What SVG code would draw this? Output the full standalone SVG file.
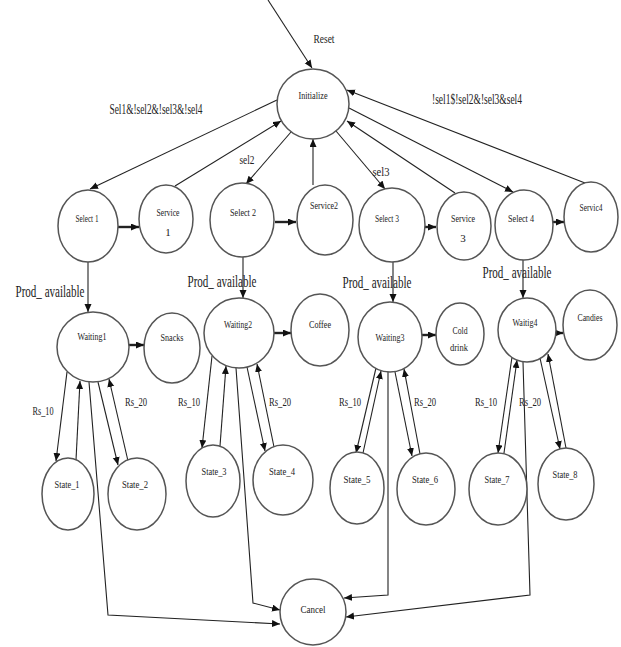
<svg xmlns="http://www.w3.org/2000/svg" width="621" height="647" viewBox="0 0 621 647">
<defs>
<marker id="ah" markerUnits="userSpaceOnUse" markerWidth="9" markerHeight="8" refX="8" refY="3.5" orient="auto">
<path d="M0,0 L8,3.5 L0,7 z" fill="#111"/>
</marker>
<style>
.n{fill:#fff;stroke:#555;stroke-width:1.5}
.c{fill:none;stroke:#222;stroke-width:1.1;marker-end:url(#ah)}
.p{fill:none;stroke:#222;stroke-width:1.1}
.t{stroke:#222;stroke-width:2.4;marker-end:url(#ah)}
text{font-family:"Liberation Serif","Times New Roman",serif;fill:#222;text-anchor:middle}
.s{font-size:11px}
.l{font-size:14px}
.r{font-size:13px}
.pa{font-size:16px}
</style>
</defs>
<rect width="621" height="647" fill="#fff"/>
<g id="connectors">
<line class="c" x1="268" y1="0" x2="312" y2="68"/>
<line class="c" x1="277" y1="100" x2="90" y2="189"/>
<line class="c" x1="175" y1="186" x2="281" y2="121"/>
<line class="c" x1="291" y1="132" x2="246" y2="184"/>
<line class="c" x1="313" y1="185" x2="313" y2="139"/>
<line class="c" x1="336" y1="131" x2="385" y2="189"/>
<line class="c" x1="455" y1="193" x2="347" y2="121"/>
<line class="c" x1="349" y1="108" x2="513" y2="192"/>
<line class="c" x1="585" y1="183" x2="347" y2="90"/>
<line class="t" x1="118" y1="227" x2="139" y2="227"/>
<line class="t" x1="275" y1="222" x2="296" y2="222"/>
<line class="t" x1="425" y1="227" x2="436" y2="227"/>
<line class="t" x1="553" y1="222" x2="564" y2="222"/>
<line class="c" x1="88" y1="262" x2="88" y2="312"/>
<line class="c" x1="243" y1="257" x2="243" y2="298"/>
<line class="c" x1="393" y1="262" x2="393" y2="302"/>
<line class="c" x1="523" y1="260" x2="523" y2="298"/>
<line class="t" x1="129" y1="345" x2="144" y2="345"/>
<line class="t" x1="274" y1="333" x2="291" y2="333"/>
<line class="t" x1="422" y1="335" x2="436" y2="335"/>
<line class="t" x1="556" y1="333" x2="563" y2="333"/>
<line class="c" x1="67" y1="372" x2="56" y2="461"/>
<line class="c" x1="76" y1="460" x2="80" y2="381"/>
<line class="c" x1="98" y1="382" x2="118" y2="465"/>
<line class="c" x1="128" y1="461" x2="109" y2="379"/>
<polyline class="c" points="89,382 108,615 280,624"/>
<line class="c" x1="212" y1="356" x2="202" y2="448"/>
<line class="c" x1="220" y1="446" x2="226" y2="366"/>
<line class="c" x1="247" y1="367" x2="265" y2="451"/>
<line class="c" x1="274" y1="447" x2="257" y2="364"/>
<polyline class="c" points="236,368 253,603 280,610"/>
<line class="c" x1="376" y1="368" x2="356" y2="453"/>
<line class="c" x1="363" y1="453" x2="381" y2="371"/>
<line class="c" x1="395" y1="372" x2="412" y2="456"/>
<line class="c" x1="420" y1="454" x2="404" y2="369"/>
<polyline class="c" points="388,372 388,595 344,598"/>
<line class="c" x1="512" y1="357" x2="498" y2="453"/>
<line class="c" x1="504" y1="453" x2="517" y2="360"/>
<line class="c" x1="540" y1="358" x2="560" y2="449"/>
<line class="c" x1="566" y1="448" x2="548" y2="354"/>
<polyline class="c" points="523,362 530,595 346,617"/>
<text class="r" x="324" y="43" textLength="21" lengthAdjust="spacingAndGlyphs">Reset</text>
<text class="l" x="156" y="114" textLength="93" lengthAdjust="spacingAndGlyphs">Sel1&amp;!sel2&amp;!sel3&amp;!sel4</text>
<text class="l" x="477" y="104" textLength="90" lengthAdjust="spacingAndGlyphs">!sel1$!sel2&amp;!sel3&amp;sel4</text>
<text class="r" x="247" y="164" textLength="15" lengthAdjust="spacingAndGlyphs">sel2</text>
<text class="r" x="381" y="176" textLength="17" lengthAdjust="spacingAndGlyphs">sel3</text>
<text class="pa" x="50" y="297" textLength="69" lengthAdjust="spacingAndGlyphs">Prod_ available</text>
<text class="pa" x="222" y="287" textLength="69" lengthAdjust="spacingAndGlyphs">Prod_ available</text>
<text class="pa" x="377" y="288" textLength="69" lengthAdjust="spacingAndGlyphs">Prod_ available</text>
<text class="pa" x="517" y="278" textLength="69" lengthAdjust="spacingAndGlyphs">Prod_ available</text>
<text class="r" x="43" y="415" textLength="21" lengthAdjust="spacingAndGlyphs">Rs_10</text>
<text class="r" x="136" y="406" textLength="22" lengthAdjust="spacingAndGlyphs">Rs_20</text>
<text class="r" x="189" y="406" textLength="22" lengthAdjust="spacingAndGlyphs">Rs_10</text>
<text class="r" x="280" y="406" textLength="22" lengthAdjust="spacingAndGlyphs">Rs_20</text>
<text class="r" x="350" y="406" textLength="22" lengthAdjust="spacingAndGlyphs">Rs_10</text>
<text class="r" x="425" y="406" textLength="22" lengthAdjust="spacingAndGlyphs">Rs_20</text>
<text class="r" x="486" y="406" textLength="22" lengthAdjust="spacingAndGlyphs">Rs_10</text>
<text class="r" x="530" y="406" textLength="22" lengthAdjust="spacingAndGlyphs">Rs_20</text>
</g>
<g id="initialize"><ellipse class="n" cx="313" cy="104" rx="36" ry="35"/><text class="s" x="313" y="99" textLength="29" lengthAdjust="spacingAndGlyphs">Initialize</text></g>
<g id="select1"><ellipse class="n" cx="88" cy="226" rx="30" ry="36"/><text class="s" x="87" y="222" textLength="23" lengthAdjust="spacingAndGlyphs">Select 1</text></g>
<g id="service1"><ellipse class="n" cx="166" cy="219" rx="27" ry="34"/><text class="s" x="168" y="216" textLength="23" lengthAdjust="spacingAndGlyphs">Service</text><text class="s" x="168" y="236">1</text></g>
<g id="select2"><ellipse class="n" cx="242" cy="220" rx="32" ry="37"/><text class="s" x="243" y="216" textLength="26" lengthAdjust="spacingAndGlyphs">Select 2</text></g>
<g id="service2"><ellipse class="n" cx="325" cy="220" rx="28" ry="35"/><text class="s" x="324" y="209" textLength="28" lengthAdjust="spacingAndGlyphs">Service2</text></g>
<g id="select3"><ellipse class="n" cx="392" cy="225" rx="33" ry="37"/><text class="s" x="387" y="222" textLength="24" lengthAdjust="spacingAndGlyphs">Select 3</text></g>
<g id="service3"><ellipse class="n" cx="464" cy="226" rx="27" ry="34"/><text class="s" x="463" y="222" textLength="24" lengthAdjust="spacingAndGlyphs">Service</text><text class="s" x="463" y="242">3</text></g>
<g id="select4"><ellipse class="n" cx="524" cy="225" rx="29" ry="35"/><text class="s" x="521" y="222" textLength="26" lengthAdjust="spacingAndGlyphs">Select 4</text></g>
<g id="service4"><ellipse class="n" cx="591" cy="217" rx="27" ry="35"/><text class="s" x="591" y="211" textLength="23" lengthAdjust="spacingAndGlyphs">Servic4</text></g>
<g id="waiting1"><ellipse class="n" cx="93" cy="347" rx="36" ry="35"/><text class="s" x="92" y="340" textLength="29" lengthAdjust="spacingAndGlyphs">Waiting1</text></g>
<g id="snacks"><ellipse class="n" cx="172" cy="348" rx="28" ry="35"/><text class="s" x="172" y="341" textLength="23" lengthAdjust="spacingAndGlyphs">Snacks</text></g>
<g id="waiting2"><ellipse class="n" cx="239" cy="333" rx="35" ry="35"/><text class="s" x="238" y="328" textLength="28" lengthAdjust="spacingAndGlyphs">Waiting2</text></g>
<g id="coffee"><ellipse class="n" cx="320" cy="330" rx="29" ry="36"/><text class="s" x="320" y="328" textLength="22" lengthAdjust="spacingAndGlyphs">Coffee</text></g>
<g id="waiting3"><ellipse class="n" cx="390" cy="337" rx="32" ry="35"/><text class="s" x="390" y="341" textLength="29" lengthAdjust="spacingAndGlyphs">Waiting3</text></g>
<g id="colddrink"><ellipse class="n" cx="460" cy="334" rx="24" ry="31"/><text class="s" x="460" y="334" textLength="15" lengthAdjust="spacingAndGlyphs">Cold</text><text class="s" x="459" y="351" textLength="18" lengthAdjust="spacingAndGlyphs">drink</text></g>
<g id="waiting4"><ellipse class="n" cx="527" cy="330" rx="29" ry="32"/><text class="s" x="525" y="326" textLength="25" lengthAdjust="spacingAndGlyphs">Waitig4</text></g>
<g id="candies"><ellipse class="n" cx="590" cy="325" rx="27" ry="35"/><text class="s" x="590" y="321" textLength="25" lengthAdjust="spacingAndGlyphs">Candies</text></g>
<g id="state1"><ellipse class="n" cx="68" cy="494" rx="26" ry="36"/><text class="s" x="67" y="488" textLength="25" lengthAdjust="spacingAndGlyphs">State_1</text></g>
<g id="state2"><ellipse class="n" cx="137" cy="494" rx="29" ry="36"/><text class="s" x="135" y="488" textLength="26" lengthAdjust="spacingAndGlyphs">State_2</text></g>
<g id="state3"><ellipse class="n" cx="213" cy="481" rx="27" ry="36"/><text class="s" x="214" y="475" textLength="25" lengthAdjust="spacingAndGlyphs">State_3</text></g>
<g id="state4"><ellipse class="n" cx="283" cy="480" rx="30" ry="35"/><text class="s" x="282" y="475" textLength="26" lengthAdjust="spacingAndGlyphs">State_4</text></g>
<g id="state5"><ellipse class="n" cx="357" cy="488" rx="27" ry="36"/><text class="s" x="357" y="483" textLength="27" lengthAdjust="spacingAndGlyphs">State_5</text></g>
<g id="state6"><ellipse class="n" cx="426" cy="489" rx="29" ry="36"/><text class="s" x="425" y="483" textLength="26" lengthAdjust="spacingAndGlyphs">State_6</text></g>
<g id="state7"><ellipse class="n" cx="498" cy="489" rx="29" ry="36"/><text class="s" x="497" y="483" textLength="25" lengthAdjust="spacingAndGlyphs">State_7</text></g>
<g id="state8"><ellipse class="n" cx="566" cy="484" rx="28" ry="36"/><text class="s" x="565" y="478" textLength="25" lengthAdjust="spacingAndGlyphs">State_8</text></g>
<g id="cancel"><ellipse class="n" cx="313" cy="612" rx="33" ry="33"/><text class="s" x="313" y="613" textLength="25" lengthAdjust="spacingAndGlyphs">Cancel</text></g>
</svg>
